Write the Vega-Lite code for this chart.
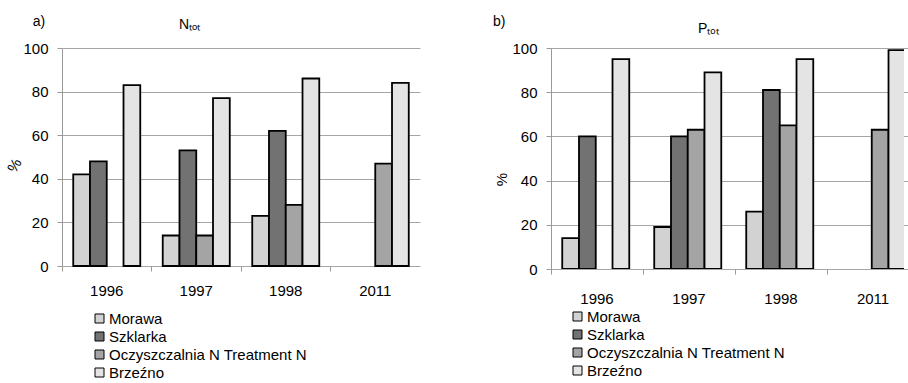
{
  "$schema": "https://vega.github.io/schema/vega-lite/v6.json",
  "padding": {"left": 4, "top": 15, "right": 0, "bottom": 0},
  "background": "white",
  "config": {
    "font": "Liberation Sans",
    "view": {"stroke": null},
    "title": {"fontWeight": "normal", "color": "black", "fontSize": 14},
    "axis": {
      "labelFont": "Liberation Sans",
      "labelFontSize": 15,
      "labelColor": "black",
      "tickColor": "#999999",
      "tickSize": 5,
      "domainColor": "#999999",
      "gridColor": "#a6a6a6",
      "titleFont": "Liberation Sans",
      "titleFontWeight": "normal",
      "titleColor": "black",
      "titleFontSize": 15
    },
    "legend": {
      "labelFont": "Liberation Sans",
      "labelFontSize": 15,
      "labelColor": "black",
      "labelLimit": 400,
      "symbolType": "square",
      "symbolSize": 81,
      "symbolStrokeColor": "black",
      "symbolStrokeWidth": 1,
      "labelOffset": 2,
      "rowPadding": 2,
      "padding": 0
    }
  },
  "datasets": {
    "ntot": [
      {"year": "1996", "site": "Morawa", "value": 42},
      {"year": "1996", "site": "Szklarka", "value": 48},
      {"year": "1996", "site": "Brzeźno", "value": 83},
      {"year": "1997", "site": "Morawa", "value": 14},
      {"year": "1997", "site": "Szklarka", "value": 53},
      {"year": "1997", "site": "Oczyszczalnia N  Treatment N", "value": 14},
      {"year": "1997", "site": "Brzeźno", "value": 77},
      {"year": "1998", "site": "Morawa", "value": 23},
      {"year": "1998", "site": "Szklarka", "value": 62},
      {"year": "1998", "site": "Oczyszczalnia N  Treatment N", "value": 28},
      {"year": "1998", "site": "Brzeźno", "value": 86},
      {"year": "2011", "site": "Oczyszczalnia N  Treatment N", "value": 47},
      {"year": "2011", "site": "Brzeźno", "value": 84}
    ],
    "ptot": [
      {"year": "1996", "site": "Morawa", "value": 14},
      {"year": "1996", "site": "Szklarka", "value": 60},
      {"year": "1996", "site": "Brzeźno", "value": 95},
      {"year": "1997", "site": "Morawa", "value": 19},
      {"year": "1997", "site": "Szklarka", "value": 60},
      {"year": "1997", "site": "Oczyszczalnia N  Treatment N", "value": 63},
      {"year": "1997", "site": "Brzeźno", "value": 89},
      {"year": "1998", "site": "Morawa", "value": 26},
      {"year": "1998", "site": "Szklarka", "value": 81},
      {"year": "1998", "site": "Oczyszczalnia N  Treatment N", "value": 65},
      {"year": "1998", "site": "Brzeźno", "value": 95},
      {"year": "2011", "site": "Oczyszczalnia N  Treatment N", "value": 63},
      {"year": "2011", "site": "Brzeźno", "value": 99}
    ]
  },
  "spacing": 72,
  "resolve": {"scale": {"color": "independent"}, "legend": {"color": "independent"}},
  "hconcat": [
    {
      "title": {"text": "a)", "anchor": "start", "frame": "bounds", "dx": 28, "dy": 7, "offset": -4},
      "vconcat": [
        {
          "width": 349,
          "height": 218,
          "title": {"text": "Nₜₒₜ", "anchor": "start", "frame": "group", "dx": 117, "dy": -2, "offset": 7},
          "data": {"name": "ntot"},
          "mark": {"type": "bar", "stroke": "black", "strokeWidth": 1.8},
          "encoding": {
            "x": {
              "field": "year", "type": "nominal", "sort": ["1996", "1997", "1998", "2011"],
              "scale": {"range": [0, 358], "paddingInner": 0, "paddingOuter": 0},
              "axis": {"title": null, "labelAngle": 0, "domain": false, "grid": false, "bandPosition": 0, "labelPadding": 12}
            },
            "xOffset": {
              "field": "site", "type": "nominal",
              "scale": {"domain": ["Morawa", "Szklarka", "Oczyszczalnia N  Treatment N", "Brzeźno"], "paddingInner": 0, "paddingOuter": 0.67}
            },
            "y": {
              "field": "value", "type": "quantitative",
              "scale": {"domain": [0, 100]},
              "axis": {"title": "%", "values": [0, 20, 40, 60, 80, 100], "labelPadding": 9, "titlePadding": 2, "titleAngle": -60, "titleY": 121}
            },
            "color": {
              "field": "site", "type": "nominal",
              "scale": {"domain": ["Morawa", "Szklarka", "Oczyszczalnia N  Treatment N", "Brzeźno"], "range": ["#d2d2d2", "#727272", "#a4a4a4", "#e4e4e4"]},
              "legend": {"title": null, "orient": "none", "legendX": 30, "legendY": 263, "direction": "vertical"}
            }
          }
        }
      ]
    },
    {
      "title": {"text": "b)", "anchor": "start", "frame": "bounds", "dx": -2, "dy": 3, "offset": -4},
      "vconcat": [
        {
          "width": 353,
          "height": 221,
          "title": {"text": "Pₜₒₜ", "anchor": "start", "frame": "group", "dx": 147, "dy": 2, "offset": 7},
          "data": {"name": "ptot"},
          "mark": {"type": "bar", "stroke": "black", "strokeWidth": 1.8, "clip": true},
          "encoding": {
            "x": {
              "field": "year", "type": "nominal", "sort": ["1996", "1997", "1998", "2011"],
              "scale": {"range": [0, 368], "paddingInner": 0, "paddingOuter": 0},
              "axis": {"title": null, "labelAngle": 0, "domain": false, "grid": false, "bandPosition": 0, "labelPadding": 17}
            },
            "xOffset": {
              "field": "site", "type": "nominal",
              "scale": {"domain": ["Morawa", "Szklarka", "Oczyszczalnia N  Treatment N", "Brzeźno"], "paddingInner": 0, "paddingOuter": 0.7}
            },
            "y": {
              "field": "value", "type": "quantitative",
              "scale": {"domain": [0, 100]},
              "axis": {"title": "%", "values": [0, 20, 40, 60, 80, 100], "labelPadding": 9, "titlePadding": 2, "titleAngle": -90, "titleY": 131}
            },
            "color": {
              "field": "site", "type": "nominal",
              "scale": {"domain": ["Morawa", "Szklarka", "Oczyszczalnia N  Treatment N", "Brzeźno"], "range": ["#d2d2d2", "#727272", "#a4a4a4", "#e4e4e4"]},
              "legend": {"title": null, "orient": "none", "legendX": 19, "legendY": 261, "direction": "vertical"}
            }
          }
        }
      ]
    }
  ]
}
